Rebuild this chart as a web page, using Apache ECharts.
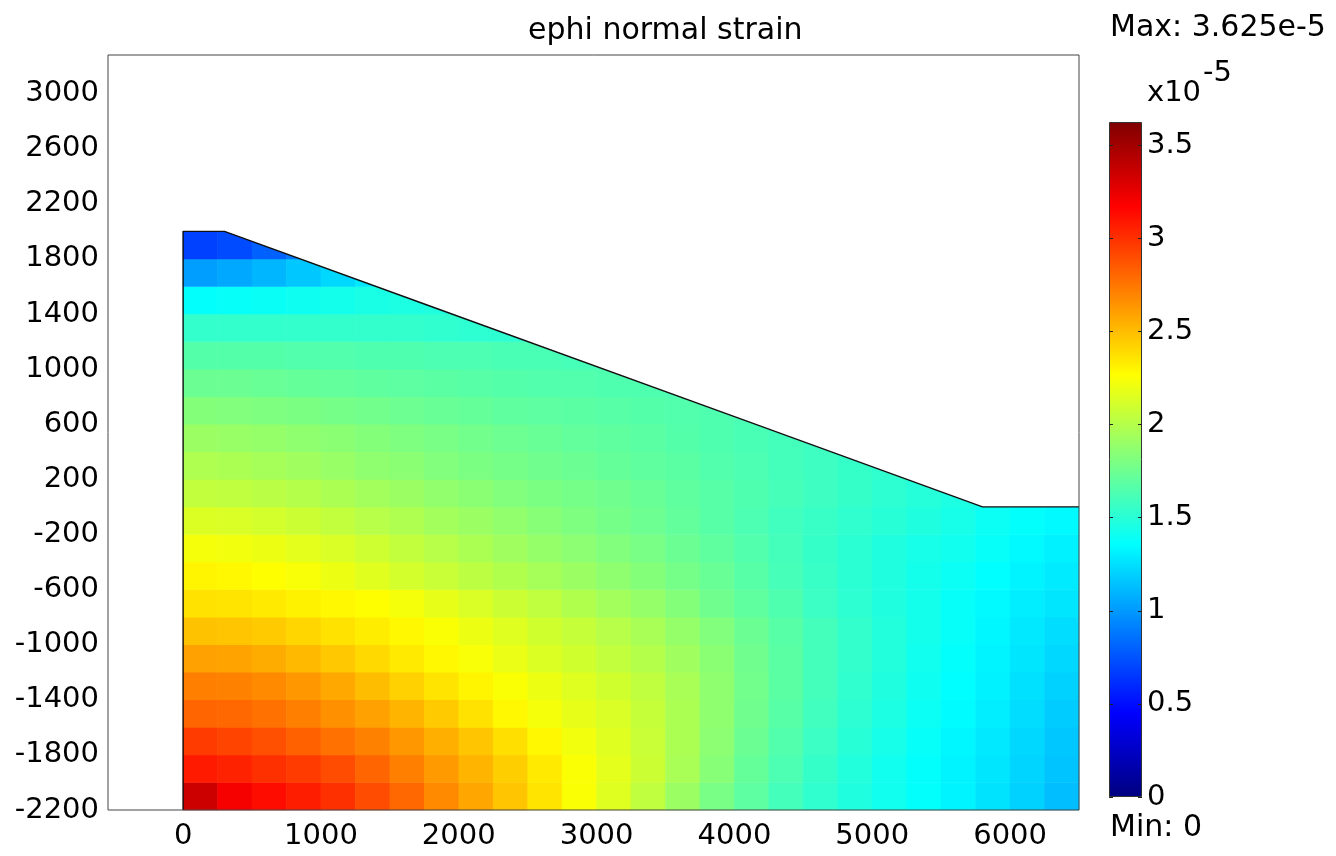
<!DOCTYPE html>
<html><head><meta charset="utf-8">
<script src="https://cdn.jsdelivr.net/npm/echarts@6/dist/echarts.min.js"></script>
<style>html,body{margin:0;padding:0;background:#fff}#c{width:1336px;height:856px}</style>
</head><body><div id="c"></div>
<script>
// ---- data ----
const xCenters = [125,375,625,875,1125,1375,1625,1875,2125,2375,2625,2875,3125,3375,3625,3875,4125,4375,4625,4875,5125,5375,5625,5875,6125,6375];
const yCenters = [-2100,-1900,-1700,-1500,-1300,-1100,-900,-700,-500,-300,-100,100,300,500,700,900,1100,1300,1500,1700,1900];
const cellW = 250, cellH = 200;
// strain values (x1e-5), one row per y centre, bottom to top
const row_m2100 = [3.35,3.2,3.13,3.07,3.0,2.9,2.8,2.68,2.58,2.47,2.36,2.25,2.15,2.04,1.91,1.79,1.69,1.6,1.53,1.47,1.42,1.37,1.32,1.26,1.2,1.13];
const row_m1900 = [3.08,3.05,3.0,2.96,2.9,2.81,2.72,2.62,2.53,2.44,2.34,2.25,2.17,2.08,1.96,1.84,1.72,1.63,1.55,1.48,1.42,1.37,1.32,1.27,1.21,1.15];
const row_m1700 = [2.96,2.93,2.89,2.83,2.77,2.71,2.63,2.55,2.47,2.38,2.29,2.22,2.15,2.07,1.97,1.86,1.74,1.65,1.57,1.5,1.44,1.38,1.33,1.28,1.22,1.16];
const row_m1500 = [2.81,2.8,2.77,2.72,2.66,2.6,2.53,2.45,2.37,2.29,2.23,2.18,2.13,2.06,1.97,1.87,1.76,1.67,1.59,1.52,1.46,1.4,1.35,1.3,1.24,1.18];
const row_m1300 = [2.72,2.71,2.68,2.63,2.57,2.5,2.43,2.36,2.3,2.25,2.2,2.15,2.1,2.04,1.96,1.87,1.77,1.68,1.6,1.53,1.47,1.41,1.36,1.31,1.25,1.2];
const row_m1100 = [2.6,2.59,2.56,2.51,2.46,2.4,2.34,2.29,2.24,2.19,2.14,2.1,2.05,2.0,1.93,1.85,1.76,1.68,1.6,1.54,1.48,1.42,1.37,1.32,1.27,1.22];
const row_m900  = [2.48,2.47,2.45,2.41,2.37,2.33,2.29,2.25,2.2,2.15,2.1,2.06,2.01,1.96,1.89,1.82,1.74,1.67,1.6,1.54,1.48,1.43,1.38,1.33,1.28,1.24];
const row_m700  = [2.37,2.36,2.34,2.31,2.29,2.27,2.23,2.18,2.13,2.08,2.04,1.99,1.94,1.89,1.83,1.76,1.7,1.64,1.57,1.52,1.47,1.43,1.38,1.34,1.3,1.27];
const row_m500  = [2.3,2.29,2.27,2.24,2.2,2.16,2.11,2.07,2.03,1.99,1.95,1.91,1.87,1.83,1.78,1.73,1.67,1.61,1.56,1.51,1.47,1.43,1.4,1.36,1.32,1.29];
const row_m300  = [2.23,2.22,2.2,2.17,2.13,2.09,2.05,2.01,1.97,1.93,1.89,1.86,1.82,1.79,1.74,1.7,1.65,1.6,1.55,1.51,1.47,1.44,1.42,1.38,1.34,1.31];
const row_m100  = [2.14,2.13,2.11,2.08,2.05,2.01,1.98,1.94,1.91,1.88,1.84,1.81,1.78,1.75,1.71,1.67,1.63,1.59,1.56,1.53,1.5,1.47,1.44,1.4,1.37,1.34];
const row_p100  = [2.05,2.04,2.02,2.0,1.97,1.94,1.91,1.88,1.85,1.82,1.8,1.78,1.76,1.73,1.7,1.67,1.64,1.61,1.58,1.55,1.52,1.49,1.46,1.43,null,null];
const row_p300  = [1.98,1.97,1.95,1.93,1.9,1.87,1.85,1.82,1.8,1.78,1.76,1.74,1.72,1.7,1.68,1.65,1.63,1.6,1.58,1.55,1.53,null,null,null,null,null];
const row_p500  = [1.91,1.9,1.89,1.87,1.85,1.83,1.81,1.79,1.77,1.75,1.73,1.71,1.7,1.68,1.66,1.64,1.62,1.6,1.58,null,null,null,null,null,null,null];
const row_p700  = [1.83,1.82,1.81,1.8,1.78,1.77,1.75,1.73,1.72,1.7,1.69,1.68,1.67,1.66,1.65,1.64,1.62,null,null,null,null,null,null,null,null,null];
const row_p900  = [1.74,1.74,1.73,1.72,1.71,1.7,1.69,1.68,1.67,1.66,1.65,1.65,1.64,1.64,1.63,null,null,null,null,null,null,null,null,null,null,null];
const row_p1100 = [1.66,1.66,1.66,1.65,1.65,1.64,1.64,1.63,1.63,1.62,1.62,1.61,1.61,null,null,null,null,null,null,null,null,null,null,null,null,null];
const row_p1300 = [1.54,1.54,1.54,1.54,1.54,1.54,1.54,1.53,1.52,1.52,null,null,null,null,null,null,null,null,null,null,null,null,null,null,null,null];
const row_p1500 = [1.37,1.38,1.39,1.41,1.43,1.45,1.46,1.47,null,null,null,null,null,null,null,null,null,null,null,null,null,null,null,null,null,null];
const row_p1700 = [1.02,1.05,1.1,1.16,1.22,1.28,null,null,null,null,null,null,null,null,null,null,null,null,null,null,null,null,null,null,null,null];
const row_p1900 = [0.68,0.72,0.8,0.88,null,null,null,null,null,null,null,null,null,null,null,null,null,null,null,null,null,null,null,null,null,null];

// domain outline (left edge, top boundary)
const boundaryX = [0, 0, 300, 1780, 4225, 5800, 6500];
const boundaryY = [-2200, 2000, 2000, 1462, 573, 0, 0];

const xTickLabels = [0,1000,2000,3000,4000,5000,6000];
const yTickLabels = [-2200,-1800,-1400,-1000,-600,-200,200,600,1000,1400,1800,2200,2600,3000];
const barTickLabels = [0,0.5,1,1.5,2,2.5,3,3.5];
const valueMin = 0, valueMax = 3.625;
const jetColors = ['#00007f','#0000ff','#007fff','#00ffff','#7fff7f','#ffff00','#ff7f00','#ff0000','#7f0000'];

// ---- build ----
const rows = [row_m2100,row_m1900,row_m1700,row_m1500,row_m1300,row_m1100,row_m900,row_m700,row_m500,row_m300,row_m100,
              row_p100,row_p300,row_p500,row_p700,row_p900,row_p1100,row_p1300,row_p1500,row_p1700,row_p1900];
const cells = [];
rows.forEach((r, i) => r.forEach((v, j) => { if (v !== null) cells.push([xCenters[j], yCenters[i], v]); }));
const outline = boundaryX.map((x, i) => [x, boundaryY[i]]);
const maskPts = outline.slice(1);

const FONT = 'DejaVu Sans';
const plain = v => String(v);
const chart = echarts.init(document.getElementById('c'), null, {renderer: 'canvas'});
const stops = jetColors.map((c, i) => ({offset: i / (jetColors.length - 1), color: c}));

chart.setOption({
  animation: false,
  backgroundColor: '#fff',
  title: {text: 'ephi normal strain', left: 523, top: 11,
          textStyle: {fontFamily: FONT, fontSize: 30, fontWeight: 'normal', color: '#000'}},
  grid: [
    {left: 108, top: 55, width: 971, height: 755, show: true, borderColor: '#444', borderWidth: 1,
     backgroundColor: 'transparent', z: 10},
    {left: 1109, top: 122, width: 33, height: 675}
  ],
  xAxis: [
    {gridIndex: 0, type: 'value', min: -545, max: 6500,
     axisLine: {show: false}, axisTick: {show: false}, splitLine: {show: false},
     axisLabel: {customValues: xTickLabels, formatter: plain, fontFamily: FONT, fontSize: 29, color: '#000', margin: 12}},
    {gridIndex: 1, type: 'category', data: ['c'], show: false}
  ],
  yAxis: [
    {gridIndex: 0, type: 'value', min: -2200, max: 3280,
     axisLine: {show: false}, axisTick: {show: false}, splitLine: {show: false},
     axisLabel: {customValues: yTickLabels, formatter: plain, fontFamily: FONT, fontSize: 29, color: '#000', margin: 9}},
    {gridIndex: 1, type: 'value', min: valueMin, max: valueMax, position: 'right', z: 10,
     axisLine: {show: false}, splitLine: {show: false},
     axisTick: {show: true, inside: true, length: 4, customValues: barTickLabels, lineStyle: {color: '#222'}},
     axisLabel: {customValues: barTickLabels, formatter: plain, fontFamily: FONT, fontSize: 29, color: '#000', margin: 5}},
    {gridIndex: 1, type: 'value', min: valueMin, max: valueMax, position: 'left', z: 10,
     axisLine: {show: false}, splitLine: {show: false}, axisLabel: {show: false},
     axisTick: {show: true, inside: true, length: 4, customValues: barTickLabels, lineStyle: {color: '#222'}}}
  ],
  visualMap: {type: 'continuous', show: false, min: valueMin, max: valueMax, dimension: 2, seriesIndex: 0,
              inRange: {color: jetColors}},
  series: [
    {type: 'custom', xAxisIndex: 0, yAxisIndex: 0, data: cells, z: 1,
     renderItem: function (params, api) {
       const c = api.coord([api.value(0), api.value(1)]);
       const s = api.size([cellW, cellH]);
       return {type: 'rect',
               shape: {x: c[0] - s[0] / 2 - 0.3, y: c[1] - s[1] / 2 - 0.3, width: s[0] + 0.6, height: s[1] + 0.6},
               style: {fill: api.visual('color')}};
     }},
    {type: 'line', xAxisIndex: 0, yAxisIndex: 0, data: maskPts, symbol: 'none', z: 3,
     lineStyle: {width: 0}, areaStyle: {color: '#ffffff', opacity: 1, origin: 'end'}},
    {type: 'line', xAxisIndex: 0, yAxisIndex: 0, data: outline, symbol: 'none', z: 4,
     lineStyle: {color: '#111', width: 1.4}},
    {type: 'bar', xAxisIndex: 1, yAxisIndex: 1, data: [valueMax], barWidth: '100%', z: 2,
     itemStyle: {color: new echarts.graphic.LinearGradient(0, 1, 0, 0, stops), borderColor: '#333', borderWidth: 1}}
  ],
  graphic: [
    {type: 'text', left: 1110, top: 13, style: {text: 'Max: 3.625e-5', font: '30px "DejaVu Sans"', fill: '#000'}},
    {type: 'text', left: 1147, top: 79, style: {text: 'x10', font: '29px "DejaVu Sans"', fill: '#000'}},
    {type: 'text', left: 1203, top: 59, style: {text: '-5', font: '29px "DejaVu Sans"', fill: '#000'}},
    {type: 'text', left: 1110, top: 813, style: {text: 'Min: 0', font: '30px "DejaVu Sans"', fill: '#000'}}
  ]
});
</script></body></html>
